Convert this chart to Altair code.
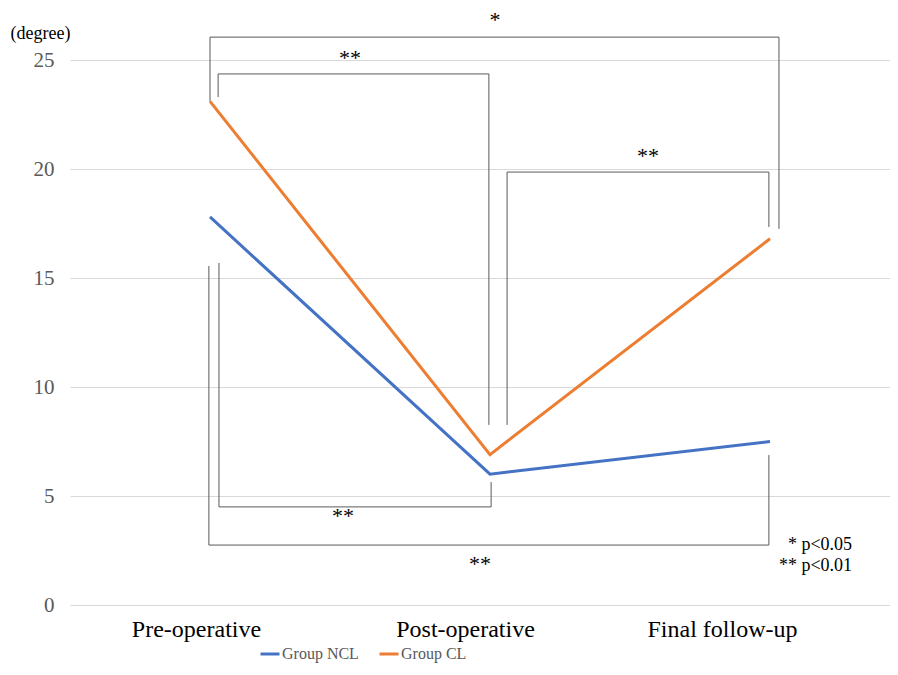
import altair as alt
import pandas as pd

categories = ["Pre-operative", "Post-operative", "Final follow-up"]
group_ncl = [17.8, 6.0, 7.5]
group_cl = [23.1, 6.9, 16.8]
series_names = ["Group NCL", "Group CL"]
series_colors = ["#4472C4", "#ED7D31"]
y_ticks = [0, 5, 10, 15, 20, 25]

# significance brackets: (x1, y1, x2, y2) in data units (x: category index + 0.5)
bracket_segments = [
    # * Pre vs Final (CL, top)
    (0.500, 23.10, 0.500, 26.05), (0.500, 26.05, 2.532, 26.05), (2.532, 26.05, 2.532, 17.25),
    # ** Pre vs Post (CL, top)
    (0.529, 23.30, 0.529, 24.36), (0.529, 24.36, 1.496, 24.36), (1.496, 24.36, 1.496, 8.26),
    # ** Post vs Final (CL)
    (1.561, 8.26, 1.561, 19.86), (1.561, 19.86, 2.496, 19.86), (2.496, 19.86, 2.496, 17.34),
    # ** Pre vs Post (NCL, bottom)
    (0.532, 15.69, 0.532, 4.50), (0.532, 4.50, 1.504, 4.50), (1.504, 4.50, 1.504, 5.64),
    # ** Pre vs Final (NCL, bottom)
    (0.496, 15.55, 0.496, 2.75), (0.496, 2.75, 2.496, 2.75), (2.496, 2.75, 2.496, 6.88),
]
star_labels = ["*", "**", "**", "**", "**"]
star_x = [1.518, 1.000, 2.064, 0.975, 1.464]
star_y = [26.93, 25.20, 20.70, 4.17, 1.97]
pnote_labels = ["* p<0.05", "** p<0.01"]
pnote_x = [2.793, 2.793]
pnote_y = [2.75, 1.79]

rows = []
for i, c in enumerate(categories):
    rows.append({"pos": i + 0.5, "cat": c, "value": group_ncl[i], "series": series_names[0]})
    rows.append({"pos": i + 0.5, "cat": c, "value": group_cl[i], "series": series_names[1]})
df = pd.DataFrame(rows)
seg_df = pd.DataFrame(bracket_segments, columns=["x1", "y1", "x2", "y2"])
star_df = pd.DataFrame({"label": star_labels, "x": star_x, "y": star_y})
pnote_df = pd.DataFrame({"label": pnote_labels, "x": pnote_x, "y": pnote_y})

SERIF = "Liberation Serif"
label_js = "[" + ",".join("'" + c + "'" for c in categories) + "]"

xscale = alt.Scale(domain=[0, 820 / 280], nice=False, zero=False)
yscale = alt.Scale(domain=[0, 25], nice=False)

x_axis = alt.Axis(
    values=[0.5, 1.5, 2.5],
    labelExpr=label_js + "[floor(datum.value)]",
    labelFont=SERIF, labelFontSize=24, labelColor="#000000",
    labelPadding=12, domain=False, ticks=False, grid=False, title=None,
    labelOffset={"condition": [{"test": "datum.value < 1", "value": -14},
                               {"test": "datum.value < 2", "value": -25}],
                 "value": -48},
)
y_axis = alt.Axis(
    values=y_ticks, labelFont=SERIF, labelFontSize=21, labelColor="#595959",
    labelPadding=16, domain=False, ticks=False, grid=True, gridColor="#D9D9D9",
    gridWidth=1.2, title="(degree)", titleAngle=0, titleAlign="left",
    titleBaseline="middle", titleX=-60, titleY=-27, titleFont=SERIF,
    titleFontSize=18, titleFontWeight="normal", titleColor="#000000",
)

lines = alt.Chart(df).mark_line(strokeWidth=3).encode(
    x=alt.X("pos:Q", scale=xscale, axis=x_axis),
    y=alt.Y("value:Q", scale=yscale, axis=y_axis),
    color=alt.Color(
        "series:N",
        scale=alt.Scale(domain=series_names, range=series_colors),
        legend=alt.Legend(
            orient="none", legendX=189, legendY=583, direction="horizontal",
            title=None, symbolType="stroke", symbolStrokeWidth=3, symbolSize=361,
            labelFont=SERIF, labelFontSize=16, labelColor="#595959",
            columnPadding=14, labelOffset=1,
        ),
    ),
)

brackets = alt.Chart(seg_df).mark_rule(color="#595959", strokeWidth=1).encode(
    x=alt.X("x1:Q", scale=xscale), x2="x2:Q",
    y=alt.Y("y1:Q", scale=yscale), y2="y2:Q",
)

stars = alt.Chart(star_df).mark_text(
    font=SERIF, fontSize=22, color="#000000", baseline="middle", dy=2
).encode(
    x=alt.X("x:Q", scale=xscale), y=alt.Y("y:Q", scale=yscale), text="label:N"
)

pnotes = alt.Chart(pnote_df).mark_text(
    font=SERIF, fontSize=18, color="#000000", align="right", baseline="middle"
).encode(
    x=alt.X("x:Q", scale=xscale), y=alt.Y("y:Q", scale=yscale), text="label:N"
)

chart = alt.layer(brackets, lines, stars, pnotes).properties(
    width=820, height=545,
    autosize=alt.AutoSizeParams(type="none"),
    padding={"left": 62, "top": 52, "right": 0, "bottom": 62},
).configure_view(stroke=None)

chart.save("out.html", embed_options={"renderer": "svg", "actions": False})
